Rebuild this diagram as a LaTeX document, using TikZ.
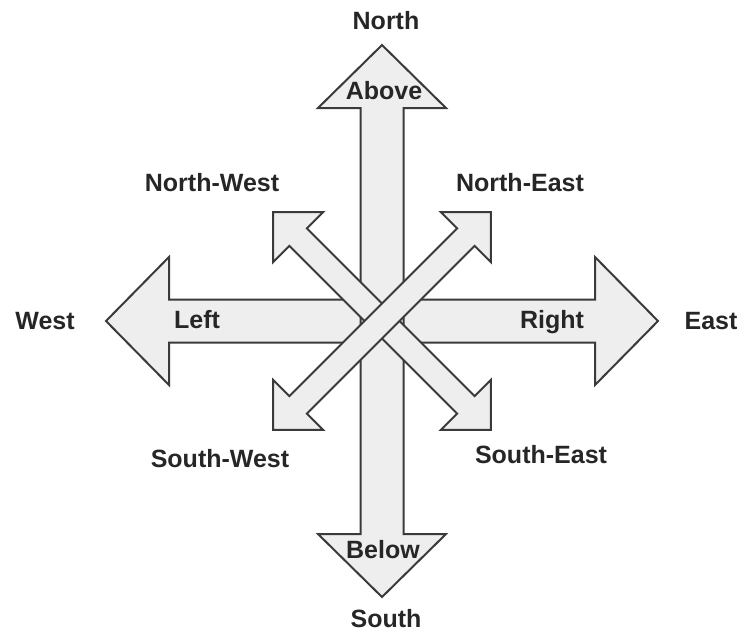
\documentclass[tikz,border=0pt]{standalone}
\usepackage{fontspec}
\setmainfont{Liberation Sans}
\usetikzlibrary{positioning}
\definecolor{arrowFill}{HTML}{EEEEEE}
\definecolor{arrowLine}{HTML}{3A3A3A}
\definecolor{labelDark}{HTML}{262626}
\tikzset{
  arrowshape/.style={draw=arrowLine, fill=arrowFill, line width=1pt, line join=miter},
  dirlabel/.style={font=\fontsize{12.5}{15}\selectfont\bfseries, text=labelDark,
                   inner sep=0pt, text height=0.72em, text depth=0pt},
}
% angle, half length, head length, head half width, shaft half width
\newcommand{\dblarrow}[5]{%
  \begin{scope}[shift={(382,321)}, rotate=#1]
    \path[arrowshape] (#2,0) -- ({#2-#3},#4) -- ({#2-#3},#5) -- ({-#2+#3},#5)
      -- ({-#2+#3},#4) -- (-#2,0) -- ({-#2+#3},-#4) -- ({-#2+#3},-#5)
      -- ({#2-#3},-#5) -- ({#2-#3},-#4) -- cycle;
  \end{scope}}

\begin{document}
\begin{tikzpicture}[x=0.5pt, y=-0.5pt]
  \useasboundingbox (0,0) rectangle (743,634);

  % the four double arrows
  \dblarrow{0}{276}{63}{64}{21.5}
  \dblarrow{90}{276}{63}{64}{21.5}
  \dblarrow{-45}{154}{35.4}{35.4}{12.4}
  \dblarrow{45}{154}{35.4}{35.4}{12.4}

  % labels on the arrows
  \node[dirlabel] (above) at (384,92)  {Above};
  \node[dirlabel] (below) at (383,551) {Below};
  \node[dirlabel] (left)  at (197,321) {Left};
  \node[dirlabel] (right) at (552,321) {Right};

  % compass points
  \node[dirlabel] (north) at (386,22)  {North};
  \node[dirlabel] (south) at (386,620) {South};
  \node[dirlabel] (west)  at (45,322)  {West};
  \node[dirlabel] (east)  at (711,322) {East};
  \node[dirlabel] (nw) at (212,184) {North-West};
  \node[dirlabel] (ne) at (520,184) {North-East};
  \node[dirlabel] (sw) at (220,460) {South-West};
  \node[dirlabel] (se) at (541,456) {South-East};
\end{tikzpicture}
\end{document}
